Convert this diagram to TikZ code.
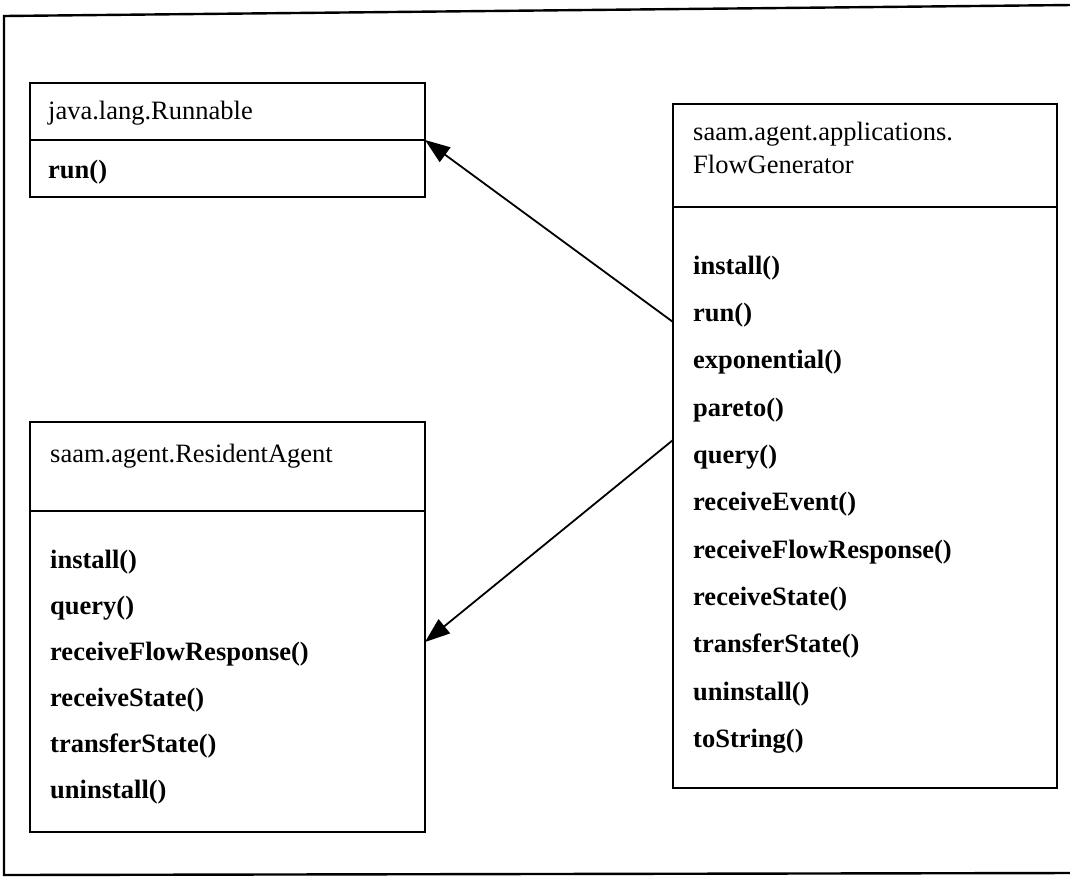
\documentclass[tikz,border=0pt]{standalone}
\usepackage{fontspec}
\setmainfont{Liberation Serif}
\usetikzlibrary{arrows.meta}
\begin{document}
\begin{tikzpicture}[x=1pt,y=-1pt,
  compartment/.style={draw, line width=1.8pt, inner sep=0pt, outer sep=0pt, anchor=north west},
  classname/.style={anchor=base west, inner sep=0pt, font=\fontsize{26.5}{32}\selectfont},
  member/.style={anchor=mid west, inner sep=0pt, font=\fontsize{26.5}{32}\selectfont\bfseries},
  generalization/.style={line width=1.8pt, -{Triangle[length=25pt,width=18pt]}}
]
\useasboundingbox (0,0) rectangle (1070,879);

% outer frame (its right side runs past the page edge)
\draw[line width=2.4pt] (1072,5) -- (4,16) -- (4,875) -- (1072,873);

% java.lang.Runnable
\node[compartment, minimum width=395pt, minimum height=57pt] (rn-head) at (30,83) {};
\node[compartment, minimum width=395pt, minimum height=57pt] (rn-body) at (30,140) {};
\node[classname] (rn-name) at (48,119) {java.lang.Runnable};
\node[member] (rn-run) at (48,176) {run()};

% saam.agent.applications.FlowGenerator
\node[compartment, minimum width=384pt, minimum height=103pt] (fg-head) at (673,104) {};
\node[compartment, minimum width=384pt, minimum height=581pt] (fg-body) at (673,207) {};
\node[classname] (fg-name1) at (693,140) {saam.agent.applications.};
\node[classname] (fg-name2) at (693,173) {FlowGenerator};
\foreach \m [count=\i from 0] in {install(), run(), exponential(), pareto(), query(),
    receiveEvent(), receiveFlowResponse(), receiveState(), transferState(),
    uninstall(), toString()}
  \node[member] (fg-m\i) at (693,272+47.3*\i) {\m};

% saam.agent.ResidentAgent
\node[compartment, minimum width=395pt, minimum height=89pt] (ra-head) at (30,422) {};
\node[compartment, minimum width=395pt, minimum height=321pt] (ra-body) at (30,511) {};
\node[classname] (ra-name) at (50,462) {saam.agent.ResidentAgent};
\foreach \m [count=\i from 0] in {install(), query(), receiveFlowResponse(),
    receiveState(), transferState(), uninstall()}
  \node[member] (ra-m\i) at (50,566+46*\i) {\m};

% relationships
\draw[generalization] ([yshift=-115pt]fg-body.north west) -- (rn-head.south east);
\draw[generalization] ([yshift=-233pt]fg-body.north west) -- ([yshift=-131pt]ra-body.north east);
\end{tikzpicture}
\end{document}
